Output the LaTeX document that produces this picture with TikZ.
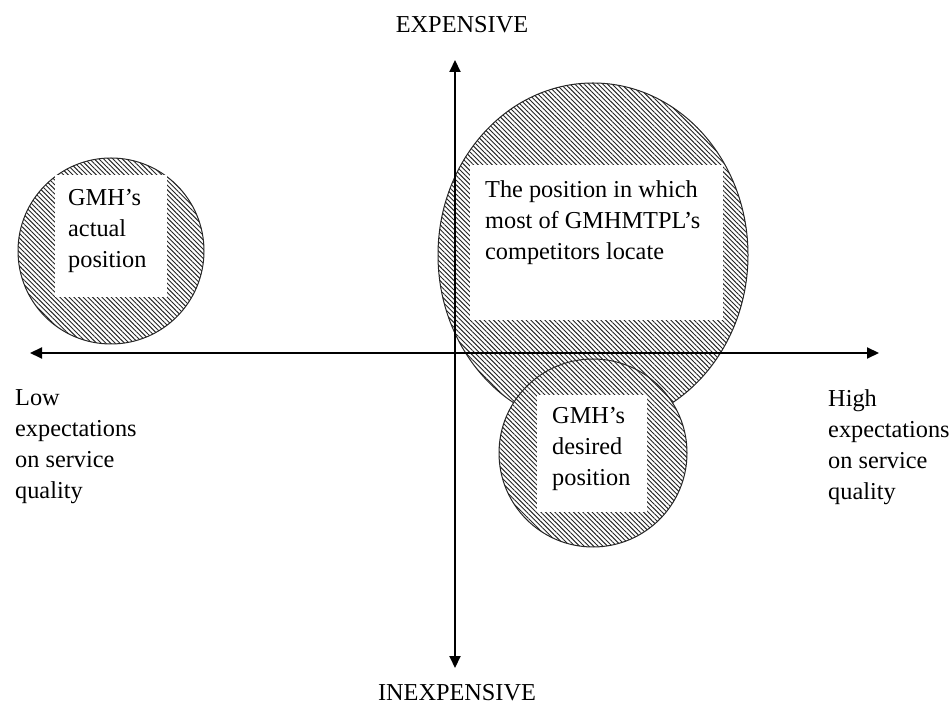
\documentclass[tikz,border=0pt]{standalone}
\usepackage{fontspec}
\setmainfont{Liberation Serif}
\usetikzlibrary{arrows.meta,patterns.meta}
\begin{document}
\begin{tikzpicture}[x=1pt,y=1pt,
  hatched/.style={draw=black!85,line width=1pt,fill=white,
    postaction={pattern={Lines[angle=-45,distance=3.3pt,line width=0.95pt]},pattern color=black!85}},
  clearbox/.style={fill=white,draw=none},
  txt/.style={font=\fontsize{24.3}{31}\selectfont,inner sep=0pt},
  label/.style={txt,align=left,anchor=north west},
  axis/.style={line width=2pt,-{Triangle[length=12pt,width=11pt]}}]
\useasboundingbox (0,0) rectangle (952,704);

% competitors' region and its caption panel
\path[hatched] (593,449) ellipse [x radius=155,y radius=172];
\path[clearbox] (470,384) rectangle (723,539);
\node[label] (comp) at (485,524) {The position in which\\most of GMHMTPL’s\\competitors locate};

% actual position
\path[hatched] (111,453) circle [radius=93];
\path[clearbox] (55,407) rectangle (167,529);
\node[label] (actual) at (68,515) {GMH’s\\actual\\position};

% desired position
\path[hatched] (593,251) circle [radius=94];
\path[clearbox] (537,192) rectangle (647,309);
\node[label] (desired) at (552,297) {GMH’s\\desired\\position};

% axes
\coordinate (o) at (455,351);
\coordinate (xl) at (30,351);
\coordinate (xr) at (879,351);
\coordinate (yt) at (455,644);
\coordinate (yb) at (455,36);
\draw[axis] (o) -- (xl);
\draw[axis] (o) -- (xr);
\draw[axis] (o) -- (yt);
\draw[axis] (o) -- (yb);

% axis captions
\node[txt,anchor=base] (exp) at (462,671) {EXPENSIVE};
\node[txt,anchor=base] (inexp) at (457,4) {INEXPENSIVE};
\node[label] (low) at (15,315) {Low\\expectations\\on service\\quality};
\node[label] (high) at (828,315) {High\\expectations\\on service\\quality};
\end{tikzpicture}
\end{document}
